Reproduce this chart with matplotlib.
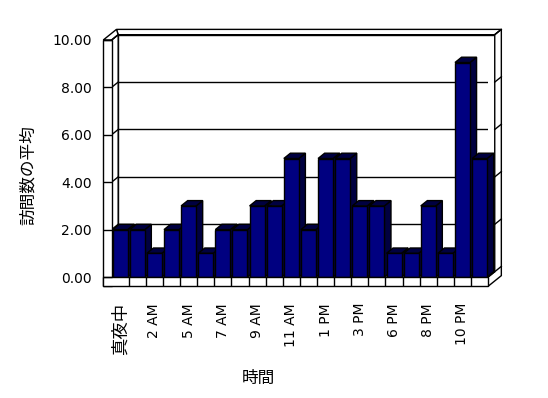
import matplotlib
matplotlib.use("Agg")
import matplotlib.pyplot as plt
from matplotlib.patches import Polygon, Rectangle

# 時間帯ごとの訪問数の平均
categories = ["真夜中", "1 AM", "2 AM", "3 AM", "5 AM", "6 AM", "7 AM", "8 AM",
              "9 AM", "10 AM", "11 AM", "12 PM", "1 PM", "2 PM", "3 PM", "4 PM",
              "6 PM", "7 PM", "8 PM", "9 PM", "10 PM", "11 PM"]
visits = [2, 2, 1, 2, 3, 1, 2, 2, 3, 3, 5, 2, 5, 5, 3, 3, 1, 1, 3, 1, 9.05, 5]
y_ticks = [0, 2, 4, 6, 8, 10]

plt.rcParams['font.family'] = ['DejaVu Sans', 'Noto Sans CJK JP']

fig = plt.figure(figsize=(5.48, 3.98), dpi=100)
ax = fig.add_axes([0.2036, 0.3040, 0.6872, 0.5955])
n = len(visits)
x_lo, x_hi = -0.5, n - 0.5
top = y_ticks[-1]
ax.set_xlim(x_lo, x_hi)
ax.set_ylim(0, top)
for s in ax.spines.values():
    s.set_visible(False)
ax.patch.set_visible(False)

# 奥行き・壁の厚さ (データ単位)
dx, dy = 0.385, 0.224
wt, ft = 0.485, 0.39
hw = 0.438
navy = '#000080'
dark = '#000040'


def poly(pts, fc, z):
    ax.add_patch(Polygon(pts, closed=True, facecolor=fc, edgecolor='black',
                         linewidth=1, zorder=z, clip_on=False))


# 壁と床
poly([(x_lo + dx, dy), (x_hi + dx, dy), (x_hi + dx, top + dy), (x_lo + dx, top + dy)], 'white', 1)
poly([(x_lo + dx, top + dy), (x_hi + dx, top + dy), (x_hi + 2 * dx, top + 2 * dy),
      (x_lo - wt + 2 * dx, top + 2 * dy)], 'white', 1)
poly([(x_hi + dx, top + dy), (x_hi + 2 * dx, top + 2 * dy), (x_hi + 2 * dx, -ft + 2 * dy),
      (x_hi, -ft), (x_hi, 0), (x_hi + dx, dy)], 'white', 1)
poly([(x_lo, 0), (x_lo + dx, dy), (x_lo + dx, top + dy), (x_lo, top)], 'white', 1)
poly([(x_lo, 0), (x_hi, 0), (x_hi + dx, dy), (x_lo + dx, dy)], 'white', 1)
poly([(x_lo - wt, top), (x_lo, top), (x_lo + dx, top + dy), (x_lo - wt + 2 * dx, top + 2 * dy)], 'white', 1)

for t in y_ticks:
    ax.plot([x_lo, x_lo + dx], [t, t + dy], color='black', lw=1, zorder=1.5, clip_on=False)
    ax.plot([x_hi + dx, x_hi + 2 * dx], [t + dy, t + 2 * dy], color='black', lw=1, zorder=1.5, clip_on=False)
ax.hlines([t + dy for t in y_ticks[1:-1]], x_lo + dx, x_hi + dx, color='black', lw=1, zorder=1.5)

# 棒
for i, v in enumerate(visits):
    z = 3 + i * 0.01
    x0, x1 = i - hw, i + hw
    poly([(x1, 0), (x1 + dx, dy), (x1 + dx, v + dy), (x1, v)], dark, z)
    poly([(x0, v), (x1, v), (x1 + dx, v + dy), (x0 + dx, v + dy)], dark, z)
    ax.add_patch(Rectangle((x0, 0), 2 * hw, v, facecolor=navy, edgecolor='black',
                           linewidth=1, zorder=z, clip_on=False))

# 手前の壁と床の前面
ax.add_patch(Rectangle((x_lo - wt, -ft), wt, top + ft, facecolor='white', edgecolor='black',
                       linewidth=1, zorder=19, clip_on=False))
ax.add_patch(Rectangle((x_lo - wt, -ft), x_hi - x_lo + wt, ft, facecolor='white', edgecolor='black',
                       linewidth=1, zorder=20, clip_on=False))
ax.vlines([i + 0.5 for i in range(n - 1)], -ft, 0, color='black', lw=1, zorder=21, clip_on=False)
ax.hlines(y_ticks, x_lo - wt, x_lo, color='black', lw=1, zorder=22, clip_on=False)

# 目盛りとラベル
ax.set_yticks(y_ticks)
ax.set_yticklabels([f'{t:.2f}' for t in y_ticks])
ax.tick_params(axis='y', length=0, pad=14.3, labelsize=10)
ax.set_xticks(range(0, n, 2))
ax.set_xticklabels(categories[::2], rotation=90)
ax.tick_params(axis='x', length=0, pad=18.7, labelsize=10)
ax.get_xticklabels()[0].set_fontsize(12.5)

ax.set_xlabel('時間', fontsize=12)
ax.xaxis.label.set_va('center')
ax.xaxis.set_label_coords(0.391, -0.424)
ax.set_ylabel('訪問数の平均', fontsize=12)
ax.yaxis.label.set_va('center')
ax.yaxis.set_label_coords(-0.221, 0.430)

fig.savefig('out.png', dpi=100)
